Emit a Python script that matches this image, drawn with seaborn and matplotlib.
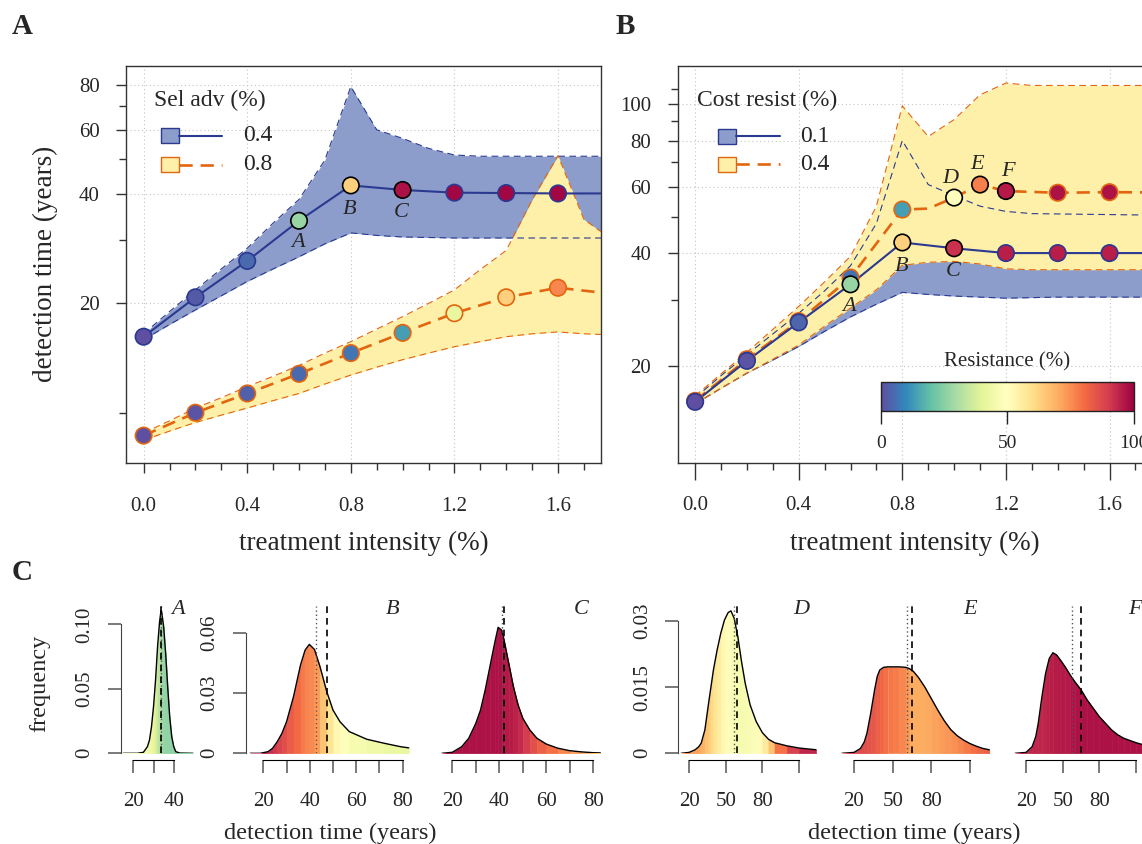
import numpy as np
import matplotlib
matplotlib.use('Agg')
import matplotlib.pyplot as plt
import matplotlib.transforms as mtransforms
from matplotlib.patches import Rectangle
from matplotlib.lines import Line2D
from matplotlib.ticker import FixedLocator, FixedFormatter, NullFormatter
import seaborn as sns

# ---------------- data: top panels (treatment intensity %) ----------------
band_x = [0.0, 0.1, 0.2, 0.3, 0.4, 0.5, 0.6, 0.7, 0.8, 0.9,
          1.0, 1.1, 1.2, 1.3, 1.4, 1.5, 1.6, 1.7, 1.8]

# panel A : selective advantage 0.4 % / 0.8 %
a_x = [0.0, 0.2, 0.4, 0.6, 0.8, 1.0, 1.2, 1.4, 1.6, 1.8]
a_sel04 = [16.2, 20.8, 26.2, 33.8, 42.3, 41.1, 40.4, 40.3, 40.2, 40.2]
a_sel04_res = [0, 2, 5, 27, 63, 97, 99, 99, 99, np.nan]
a_sel04_tag = ['', '', '', 'A', 'B', 'C', '', '', '', '']
a_sel08 = [8.65, 10.0, 11.3, 12.8, 14.6, 16.6, 18.8, 20.8, 22.1, 21.3]
a_sel08_res = [0, 1, 3, 5, 7, 14, 42, 63, 76, np.nan]
a_sel08_tag = [''] * 10
a_sel04_lo = [15.9, 17.5, 19.2, 21.0, 23.0, 24.9, 26.9, 29.2, 31.3, 30.8,
              30.5, 30.4, 30.3, 30.3, 30.3, 30.3, 30.3, 30.3, 30.3]
a_sel04_hi = [16.5, 19.0, 21.8, 24.9, 28.4, 33.3, 38.7, 49.7, 79.2, 60.2,
              57.0, 53.5, 51.3, 50.9, 50.9, 50.9, 50.9, 50.9, 50.9]
a_sel08_lo = [8.4, 8.9, 9.4, 9.85, 10.3, 10.8, 11.3, 12.0, 12.7, 13.35,
              14.0, 14.6, 15.2, 15.7, 16.2, 16.5, 16.7, 16.5, 16.4]
a_sel08_hi = [8.8, 9.5, 10.3, 11.0, 11.8, 12.6, 13.5, 14.6, 15.7, 17.0,
              18.4, 20.0, 21.8, 24.8, 28.0, 38.6, 51.1, 34.1, 30.3]

# panel B : cost of resistance 0.1 % / 0.4 %
b_x01 = [0.0, 0.2, 0.4, 0.6, 0.8, 1.0, 1.2, 1.4, 1.6, 1.8]
b_cost01 = [16.0, 20.6, 26.1, 33.0, 42.7, 41.2, 40.0, 40.0, 40.0, 40.0]
b_cost01_res = [0, 1, 4, 27, 63, 92, 95, 95, 95, np.nan]
b_cost01_tag = ['', '', '', 'A', 'B', 'C', '', '', '', '']
b_x04 = [0.0, 0.2, 0.4, 0.6, 0.8, 0.9, 1.0, 1.1, 1.2, 1.4, 1.6, 1.8]
b_cost04 = [16.1, 20.8, 26.3, 34.4, 52.3, 52.6, 56.3, 61.0, 58.6, 58.0, 58.2, 58.1]
b_cost04_res = [0, 1, 4, 6, 14, np.nan, 50, 77, 96, 97, 97, np.nan]
b_cost04_tag = ['', '', '', '', '', '', 'D', 'E', 'F', '', '', '']
b_cost01_lo = [15.8, 17.4, 19.1, 20.7, 22.5, 24.7, 27.0, 29.2, 31.4, 31.0,
               30.7, 30.5, 30.3, 30.4, 30.5, 30.5, 30.5, 30.5, 30.5]
b_cost01_hi = [16.4, 18.8, 21.4, 24.3, 27.6, 31.7, 37.0, 48.0, 80.0, 61.0,
               57.0, 53.4, 51.7, 51.0, 50.9, 50.8, 50.7, 50.6, 50.6]
b_cost04_lo = [15.8, 17.4, 19.1, 20.8, 22.7, 25.5, 28.5, 31.9, 37.1, 37.8,
               38.0, 37.4, 36.3, 36.1, 36.1, 36.1, 36.1, 36.1, 36.1]
b_cost04_hi = [16.6, 19.0, 21.7, 25.0, 28.8, 33.5, 39.2, 53.4, 99.0, 82.0,
               91.0, 106.0, 114.0, 112.3, 112.3, 112.3, 112.3, 112.3, 112.3]

# ---------------- data: bottom panels (detection time distributions) ----------------
hA_x = [15, 22, 25, 27, 28, 29, 30, 31, 32, 33, 33.7, 34, 35, 36, 37, 38, 39, 40, 41, 43, 49.5]
hA_f = [0, 0, 0.0008, 0.0052, 0.0103, 0.0207, 0.0362, 0.0568, 0.0827, 0.1021, 0.1106,
        0.1098, 0.0982, 0.0775, 0.0517, 0.0284, 0.0129, 0.0052, 0.0013, 0.0002, 0]
hA_res = [46, 46, 46, 45, 44, 43, 41, 38, 34, 31, 30, 29, 27, 26, 26, 26, 26, 25, 25, 25, 25]
hA_med, hA_mean = 33.6, 33.8

hB_x = [14.3, 18.6, 22, 24, 26, 28, 30, 33, 36, 38, 39.8, 42, 44.4, 47.3, 50, 53, 57, 64.5, 72, 79, 82.6]
hB_f = [0, 0, 0.0008, 0.0025, 0.0058, 0.0099, 0.0157, 0.0282, 0.0439, 0.0514, 0.0542,
        0.0517, 0.0431, 0.0307, 0.0215, 0.0157, 0.0108, 0.0070, 0.0050, 0.0033, 0.0027]
hB_res = [95, 95, 93, 92, 90, 88, 85, 82, 79, 77, 76, 75, 70, 62, 55, 50, 47, 45, 43, 42, 42]
hB_med, hB_mean = 42.7, 47.3

hC_x = [15.5, 20, 24, 27, 30, 32, 34, 36, 38, 39.5, 41, 42, 44, 46, 48, 50, 53, 56, 60, 65, 70, 75, 80, 83]
hC_f = [0, 0.0005, 0.0033, 0.0075, 0.0149, 0.0215, 0.0315, 0.0431, 0.0547, 0.0627, 0.0613, 0.0564,
        0.0448, 0.0331, 0.0240, 0.0174, 0.0116, 0.0075, 0.0046, 0.0025, 0.0013, 0.0007, 0.0003, 0.0002]
hC_res = [97, 97, 97, 97, 97, 97, 97, 97, 97, 97, 97, 96, 96, 95, 94, 92, 88, 84, 81, 78, 74, 70, 66, 64]
hC_med, hC_mean = 41.3, 42.0

hD_x = [13.5, 20, 25, 28, 30, 33, 36, 38, 40, 43, 46, 49, 52, 54.3, 57, 60, 63, 66, 70, 75, 80, 85, 90, 100, 110, 124]
hD_f = [0, 0.0002, 0.0008, 0.0015, 0.0023, 0.0053, 0.0113, 0.0151, 0.0189, 0.0234, 0.0272, 0.0302, 0.0319,
        0.0323, 0.0306, 0.0264, 0.0208, 0.0159, 0.0110, 0.0072, 0.0047, 0.0032, 0.0024, 0.0017, 0.0012, 0.0008]
hD_res = [74, 73, 72, 71, 70, 68, 64, 62, 60, 57, 54, 52, 50, 48, 47, 46, 46, 46, 47, 49, 53, 60, 72, 86, 92, 95]
hD_med, hD_mean = 56.5, 59.0

hE_x = [10.5, 20, 25, 28, 30, 33, 36, 38, 40, 43, 46, 50, 55, 60, 63, 66, 70, 75, 80, 85, 90, 95,
        100, 105, 110, 115, 120, 125]
hE_f = [0, 0.0002, 0.0011, 0.0026, 0.0045, 0.0091, 0.0144, 0.0174, 0.0189, 0.0195, 0.0196, 0.0196,
        0.0196, 0.0195, 0.0192, 0.0186, 0.0172, 0.0150, 0.0124, 0.0098, 0.0074, 0.0054, 0.0040,
        0.0030, 0.0022, 0.0016, 0.0011, 0.0008]
hE_res = [88, 88, 87, 87, 86, 85, 84, 83, 82, 80, 79, 78, 77, 75, 72, 70, 70, 70, 71, 72, 73, 74,
          75, 77, 79, 80, 82, 83]
hE_med, hE_mean = 61.3, 65.0

hF_x = [11, 20, 25, 28, 30, 33, 36, 39, 42, 45, 48, 52, 56, 60, 65, 70, 75, 80, 85, 90, 95, 100,
        105, 110, 115, 120, 125]
hF_f = [0, 0.0002, 0.0015, 0.0038, 0.0068, 0.0128, 0.0181, 0.0215, 0.0228, 0.0223, 0.0212, 0.0196,
        0.0178, 0.0162, 0.0144, 0.0121, 0.0102, 0.0083, 0.0068, 0.0053, 0.0042, 0.0034, 0.0029,
        0.0024, 0.0020, 0.0017, 0.0015]
hF_res = [94, 94, 94, 94, 94, 94, 94, 95, 95, 96, 96, 96, 96, 97, 97, 97, 97, 97, 97, 97, 97, 97,
          97, 97, 97, 97, 97]
hF_med, hF_mean = 58.0, 64.7

# ---------------- styling ----------------
W, H = 1142, 844
BLUE, BLUE_FILL = '#2B3990', '#8C9DCB'
ORANGE, YEL_FILL = '#E2650F', '#FEF0A9'
AXC = '#333333'
DASH = (0, (5, 3))
BAND_DASH = (0, (6, 4))
cmap = plt.get_cmap('Spectral_r')
norm = plt.Normalize(0, 100)
tag_offset = {'A': (-1, -22), 'B': (-1, -24), 'C': (-1, -23),
              'D': (-4, 19), 'E': (-3, 20), 'F': (2, 20)}

sns.set_style('white')
plt.rcParams['font.family'] = ['Liberation Serif', 'DejaVu Serif']
plt.rcParams['axes.edgecolor'] = AXC

fig = plt.figure(figsize=(W / 100, H / 100), dpi=100)
px = mtransforms.Affine2D().scale(1, -1).translate(0, H)   # pixel coords, origin top-left


def add_ax(left, top, right, bottom):
    return fig.add_axes([left / W, 1 - bottom / H, (right - left) / W, (bottom - top) / H])


def main_panel(ax, bands, series, ylim, ymajor, yminor, xlen, xpad):
    ax.set_yscale('log')
    (blo, bhi), (ylo, yhi) = bands
    ax.fill_between(band_x, blo, bhi, color=BLUE_FILL, lw=0, zorder=1)
    ax.fill_between(band_x, ylo, yhi, color=YEL_FILL, lw=0, zorder=2)
    for arr in (blo, bhi):
        sns.lineplot(x=band_x, y=arr, ax=ax, color=BLUE, lw=0.8, ls=BAND_DASH, zorder=3)
    for arr in (ylo, yhi):
        sns.lineplot(x=band_x, y=arr, ax=ax, color=ORANGE, lw=0.8, ls=BAND_DASH, zorder=3)
    for x, y, res, tags, col, ls, lw in series:
        sns.lineplot(x=x, y=y, ax=ax, color=col, lw=lw, ls=ls, zorder=4)
        res = np.asarray(res, float)
        m = ~np.isnan(res)
        xs, ys = np.asarray(x)[m], np.asarray(y)[m]
        edges = ['black' if t else col for t, k in zip(tags, m) if k]
        ax.scatter(xs, ys, c=res[m], cmap=cmap, norm=norm, s=140,
                   edgecolors=edges, linewidths=1.2, zorder=6)
        for xi, yi, t in zip(x, y, tags):
            if t:
                ax.annotate(t, (xi, yi), xytext=tag_offset[t], textcoords='offset pixels',
                            ha='center', va='center', fontsize=16, style='italic', zorder=7)
    ax.set_xlim(-0.068, 1.766)
    ax.set_ylim(*ylim)
    ax.xaxis.set_major_locator(FixedLocator([0.0, 0.4, 0.8, 1.2, 1.6]))
    ax.xaxis.set_major_formatter(FixedFormatter(['0.0', '0.4', '0.8', '1.2', '1.6']))
    ax.xaxis.set_minor_locator(FixedLocator([0.1, 0.2, 0.3, 0.5, 0.6, 0.7, 0.9, 1.0,
                                             1.1, 1.3, 1.4, 1.5, 1.7]))
    ax.yaxis.set_major_locator(FixedLocator(ymajor))
    ax.yaxis.set_major_formatter(FixedFormatter([str(v) for v in ymajor]))
    ax.yaxis.set_minor_locator(FixedLocator(yminor))
    ax.yaxis.set_minor_formatter(NullFormatter())
    ax.tick_params(which='both', bottom=True, left=True, top=False, right=False,
                   direction='out', color=AXC, width=1, labelsize=15)
    ax.tick_params(axis='x', which='major', length=xlen, pad=xpad)
    ax.tick_params(axis='y', which='major', length=7.5, pad=11.5)
    ax.tick_params(which='minor', length=4.8)
    ax.grid(False, which='minor')
    ax.grid(True, which='major', ls=(0, (1, 2.5)), lw=0.8, color='#C4C4C4')
    ax.set_axisbelow(True)
    for s in ax.spines.values():
        s.set_linewidth(1.0)
        s.set_color(AXC)
    ax.set_xlabel('')
    ax.set_ylabel('')


def hist_panel(ax, x, f, res, med, mean, xlim, ylim, xticks, xlabels, yticks, ylabels, tag, tag_x):
    for i in range(len(x) - 1):
        c = cmap(norm((res[i] + res[i + 1]) / 2))
        ax.fill_between(x[i:i + 2], 0, f[i:i + 2], color=c, ec=c, lw=0.4, zorder=1)
    sns.lineplot(x=x, y=f, ax=ax, color='black', lw=1.0, zorder=3)
    ax.axvline(med, color='#555555', ls=(0, (1, 2)), lw=1.0, zorder=4)
    ax.axvline(mean, color='black', ls=(0, (4, 3)), lw=1.2, zorder=4)
    ax.set_xlim(*xlim)
    ax.set_ylim(*ylim)
    ax.patch.set_alpha(0)
    ax.grid(False)
    ax.spines['top'].set_visible(False)
    ax.spines['right'].set_visible(False)
    ax.spines['bottom'].set_position(('outward', 4.8))
    ax.spines['bottom'].set_bounds(xticks[0], xticks[-1])
    ax.spines['bottom'].set_color('black')
    ax.set_xticks(xticks)
    ax.set_xticklabels(xlabels)
    ax.tick_params(axis='x', bottom=True, direction='out', length=9.1, width=1.1,
                   color='#555555', pad=14, labelsize=15)
    if yticks is not None:
        ax.spines['left'].set_bounds(yticks[0], yticks[-1])
        ax.spines['left'].set_color('#444444')
        ax.set_yticks(yticks)
        ax.set_yticklabels(ylabels)
        ax.tick_params(axis='y', left=True, direction='out', length=9.1, width=1.1,
                       color='#555555', pad=10, labelsize=15, labelrotation=90)
        for lbl in ax.get_yticklabels():
            lbl.set_va('center')
    else:
        ax.spines['left'].set_visible(False)
        ax.tick_params(axis='y', left=False, labelleft=False)
    ax.set_xlabel('')
    ax.set_ylabel('')
    fig.text(tag_x, 610, tag, transform=px, fontsize=16, style='italic', ha='center', va='center')


# ---------------- top panels ----------------
axA = add_ax(126, 65.7, 601, 463)
main_panel(axA, ((a_sel04_lo, a_sel04_hi), (a_sel08_lo, a_sel08_hi)),
           [(a_x, a_sel08, a_sel08_res, a_sel08_tag, ORANGE, DASH, 1.9),
            (a_x, a_sel04, a_sel04_res, a_sel04_tag, BLUE, '-', 1.5)],
           (7.27, 90.4), [20, 40, 60, 80], [10, 30, 50, 70], 7, 17.5)

axB = add_ax(677.5, 66, 1152.5, 462.7)
main_panel(axB, ((b_cost01_lo, b_cost01_hi), (b_cost04_lo, b_cost04_hi)),
           [(b_x04, b_cost04, b_cost04_res, b_cost04_tag, ORANGE, DASH, 1.9),
            (b_x01, b_cost01, b_cost01_res, b_cost01_tag, BLUE, '-', 1.5)],
           (11.0, 126.6), [20, 40, 60, 80, 100], [30, 50, 70, 90, 110], 12, 12.2)


def draw_legend(title, tx, ty, px0, lx1, labx, rows):
    fig.text(tx, ty, title, transform=px, fontsize=17, ha='left', va='center')
    for y, fill, edge, ls, lw, lab in rows:
        fig.add_artist(Line2D([px0 + 18, lx1], [y, y], transform=px, color=edge, lw=lw, ls=ls))
        fig.add_artist(Rectangle((px0, y - 7.5), 18, 15, transform=px,
                                 facecolor=fill, edgecolor=edge, lw=1))
        fig.text(labx, y, lab, transform=px, fontsize=17, ha='left', va='center')


draw_legend('Sel adv (%)', 154, 100, 161, 222, 243,
            [(135.5, BLUE_FILL, BLUE, '-', 1.5, '0.4'),
             (164.5, YEL_FILL, ORANGE, DASH, 1.9, '0.8')])
draw_legend('Cost resist (%)', 697, 100.7, 718, 780, 800,
            [(136, BLUE_FILL, BLUE, '-', 1.5, '0.1'),
             (164.3, YEL_FILL, ORANGE, DASH, 1.9, '0.4')])

# colour bar
cax = add_ax(880.7, 381.7, 1134, 410.7)
cb = fig.colorbar(plt.cm.ScalarMappable(norm=norm, cmap=cmap), cax=cax, orientation='horizontal')
cb.set_ticks([0, 50, 100])
cb.set_ticklabels(['0', '50', '100'])
cax.tick_params(length=9.5, width=1, labelsize=14, pad=8, color='#222222')
cb.outline.set_linewidth(1.0)
cb.outline.set_edgecolor('#222222')
fig.text(1007, 362, 'Resistance (%)', transform=px, fontsize=15, ha='center', va='center')

# axis titles & panel letters
fig.text(45.5, 264, 'detection time (years)', transform=px, fontsize=19.5,
         rotation=90, ha='center', va='center')
fig.text(363.5, 543, 'treatment intensity (%)', transform=px, fontsize=19.5, ha='center', va='center')
fig.text(915, 543, 'treatment intensity (%)', transform=px, fontsize=19.5, ha='center', va='center')
fig.text(22, 27, 'A', transform=px, fontsize=21, fontweight='bold', ha='center', va='center')
fig.text(625, 27, 'B', transform=px, fontsize=21, fontweight='bold', ha='center', va='center')
fig.text(22, 572, 'C', transform=px, fontsize=21, fontweight='bold', ha='center', va='center')

# ---------------- bottom panels ----------------
tk80 = [20, 30, 40, 50, 60, 70, 80]
lb80 = ['20', '', '40', '', '60', '', '80']
tk110 = [20, 50, 80, 110]
lb110 = ['20', '50', '80', '']

ax1 = add_ax(121, 606, 200, 753.3)
hist_panel(ax1, hA_x, hA_f, hA_res, hA_med, hA_mean, (13.9, 53.0), (0, 0.1142),
           [20, 30, 40], ['20', '', '40'], [0, 0.05, 0.10], ['0', '0.05', '0.10'], 'A', 178)
ax2 = add_ax(245.7, 606, 412, 753.3)
hist_panel(ax2, hB_x, hB_f, hB_res, hB_med, hB_mean, (12.42, 84.0), (0, 0.0733),
           tk80, lb80, [0, 0.03, 0.06], ['0', '0.03', '0.06'], 'B', 393)
ax3 = add_ax(437, 606, 602, 753.3)
hist_panel(ax3, hC_x, hC_f, hC_res, hC_med, hC_mean, (13.49, 83.7), (0, 0.0733),
           tk80, lb80, None, None, 'C', 581)
ax4 = add_ax(678.3, 606, 818, 753.3)
hist_panel(ax4, hD_x, hD_f, hD_res, hD_med, hD_mean, (11.24, 125.6), (0, 0.0334),
           tk110, lb110, [0, 0.015, 0.03], ['0', '0.015', '0.03'], 'D', 801)
ax5 = add_ax(840, 606, 991, 753.3)
hist_panel(ax5, hE_x, hE_f, hE_res, hE_med, hE_mean, (9.14, 126.3), (0, 0.0334),
           tk110, lb110, None, None, 'E', 970.5)
ax6 = add_ax(1012, 606, 1160, 753.3)
hist_panel(ax6, hF_x, hF_f, hF_res, hF_med, hF_mean, (8.54, 129.6), (0, 0.0334),
           tk110, lb110, None, None, 'F', 1135)

fig.text(40, 683, 'frequency', transform=px, fontsize=17.5, rotation=90, ha='center', va='center')
fig.text(330.5, 833, 'detection time (years)', transform=px, fontsize=17.5, ha='center', va='center')
fig.text(914.5, 833, 'detection time (years)', transform=px, fontsize=17.5, ha='center', va='center')

fig.savefig('out.png', dpi=100)
plt.close(fig)
